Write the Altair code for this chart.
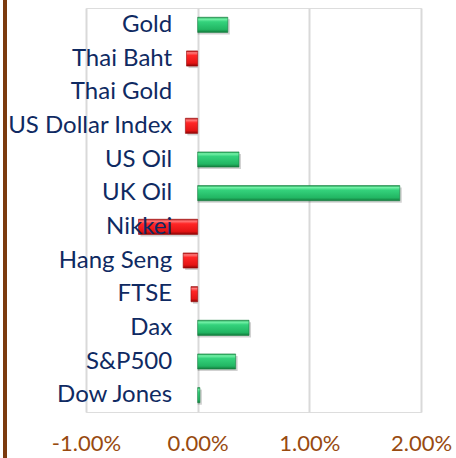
import altair as alt
import pandas as pd

categories = ["Gold", "Thai Baht", "Thai Gold", "US Dollar Index", "US Oil", "UK Oil",
              "Nikkei", "Hang Seng", "FTSE", "Dax", "S&P500", "Dow Jones"]
changes = [0.0027, -0.0010, 0.0, -0.0011, 0.0037, 0.0181,
           -0.0053, -0.0013, -0.0006, 0.0046, 0.0034, 0.0002]
x_ticks = [-0.01, 0.0, 0.01, 0.02]

df = pd.DataFrame({"name": categories, "change": changes})

W, H = 335, 404

green = alt.Gradient(
    gradient="linear", x1=0, x2=0, y1=0, y2=1,
    stops=[alt.GradientStop(offset=0, color="#1A9A4C"),
           alt.GradientStop(offset=0.12, color="#74F2A8"),
           alt.GradientStop(offset=0.3, color="#34D27C"),
           alt.GradientStop(offset=0.8, color="#22B663"),
           alt.GradientStop(offset=1, color="#137A3C")])
red = alt.Gradient(
    gradient="linear", x1=0, x2=0, y1=0, y2=1,
    stops=[alt.GradientStop(offset=0, color="#B00A0A"),
           alt.GradientStop(offset=0.12, color="#FF7A7A"),
           alt.GradientStop(offset=0.3, color="#FF2626"),
           alt.GradientStop(offset=0.8, color="#E41414"),
           alt.GradientStop(offset=1, color="#8C0606")])

x_enc = alt.X("change:Q", scale=alt.Scale(domain=[-0.01, 0.02], nice=False, zero=False),
              axis=alt.Axis(values=x_ticks, title=None, domain=False, ticks=False,
                            labelExpr="replace(format(datum.value, '.2%'), '\u2212', '-')",
                            grid=True, gridColor="#D9D9D9", gridWidth=2,
                            labelColor="#984A10", labelFontSize=22, labelFont="Lato",
                            labelPadding=21, labelFlush=False))
y_enc = alt.Y("name:N", sort=None, title=None,
              scale=alt.Scale(paddingInner=0.55, paddingOuter=0.275),
              axis=alt.Axis(domain=False, ticks=False, tickSize=0, grid=False,
                            offset=-W / 3, labelPadding=26, zindex=2,
                            labelColor="#0F2A62", labelFontSize=24, labelFont="Lato"))

base = alt.Chart(df).transform_filter("datum.change != 0")

shadow = base.mark_bar(color="#000000", opacity=0.18, xOffset=2, yOffset=2).encode(
    x=x_enc, x2=alt.datum(0), y=y_enc)
pos = base.transform_filter("datum.change > 0").mark_bar(
    color=green, stroke="#15803F", strokeWidth=0.6).encode(x=x_enc, x2=alt.datum(0), y=y_enc)
neg = base.transform_filter("datum.change < 0").mark_bar(
    color=red, stroke="#9A0A0A", strokeWidth=0.6).encode(x=x_enc, x2=alt.datum(0), y=y_enc)
labels_axis = alt.Chart(df).mark_bar(opacity=0).encode(
    x=x_enc, x2=alt.datum(0), y=y_enc)

border = alt.Chart(pd.DataFrame({"a": [0]})).mark_rule(
    color="#7B3A0E", strokeWidth=4).encode(
    x=alt.value(-81), y=alt.value(-10), y2=alt.value(H + 50))

chart = alt.layer(labels_axis, shadow, pos, neg, border).properties(
    width=W, height=H,
    autosize=alt.AutoSizeParams(type="none"),
    padding={"left": 86, "top": 8, "right": 35, "bottom": 46},
).configure_view(stroke=None).configure(background="white")

chart.save("out.html", embed_options={"renderer": "svg", "actions": False})
